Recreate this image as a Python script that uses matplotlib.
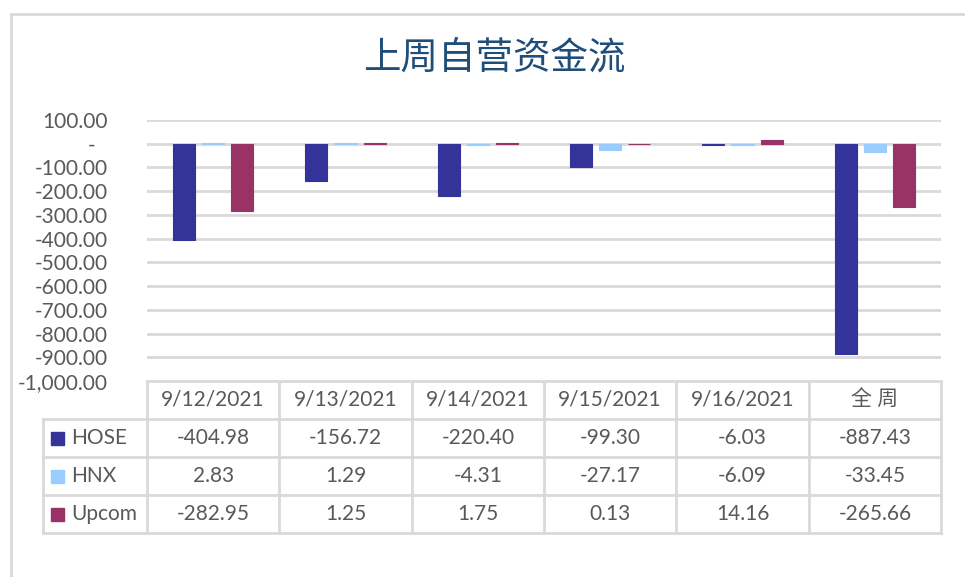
import numpy as np
import matplotlib
matplotlib.use('Agg')
import matplotlib.pyplot as plt
from matplotlib.ticker import FuncFormatter

plt.rcParams['font.family'] = ['Lato', 'Noto Sans CJK SC', 'DejaVu Sans']

# data
categories = ['9/12/2021', '9/13/2021', '9/14/2021', '9/15/2021', '9/16/2021', '全 周']
series = ['HOSE', 'HNX', 'Upcom']
hose = [-404.98, -156.72, -220.40, -99.30, -6.03, -887.43]
hnx = [2.83, 1.29, -4.31, -27.17, -6.09, -33.45]
upcom = [-282.95, 1.25, 1.75, 0.13, 14.16, -265.66]
colors = ['#333399', '#99ccff', '#993366']

W, H = 965, 577
fig = plt.figure(figsize=(W / 100, H / 100), dpi=100)

# pixel layout of plot/table
px_left, px_right = 147, 941
px_top, px_bottom = 120, 381
row_edges = [381, 419, 457, 495, 533]
grid_col = '#d9d9d9'
txt_col = '#595959'
fs = 15

# background overlay for frame + table (pixel coords)
bg = fig.add_axes([0, 0, 1, 1])
bg.set_xlim(0, W)
bg.set_ylim(H, 0)
bg.axis('off')
bg.plot([11, 11], [14, H], color=grid_col, lw=2)
bg.plot([11, W], [14, 14], color=grid_col, lw=2)

ax = fig.add_axes([px_left / W, 1 - px_bottom / H,
                   (px_right - px_left) / W, (px_bottom - px_top) / H])
x = np.arange(len(categories))
bw = 0.167
offs = [-0.22, 0, 0.22]
for vals, c, o in zip([hose, hnx, upcom], colors, offs):
    ax.bar(x + o, vals, width=bw, color=c, edgecolor=c, linewidth=0.8, zorder=3)

ax.set_xlim(-0.5, len(categories) - 0.5)
ax.set_ylim(-1000, 100)
ax.set_yticks(np.arange(-1000, 101, 100))
ax.yaxis.set_major_formatter(FuncFormatter(lambda v, p: '-\u2007' if abs(v) < 1e-9 else f'{v:,.2f}'))
ax.tick_params(axis='y', length=0, pad=28, labelsize=fs, labelcolor=txt_col)
ax.set_xticks([])
ax.grid(axis='y', color=grid_col, lw=2, zorder=0)
for s in ax.spines.values():
    s.set_visible(False)

fig.text(494 / W, 1 - 58 / H, '上周自营资金流', ha='center', va='center',
         fontsize=27, color='#1f4e79', family=['Noto Sans CJK SC'], weight='medium')

# data table under the chart
col_edges = np.linspace(px_left, px_right, len(categories) + 1)
lab_left = 43
lw = 2
# header row borders
bg.plot([px_left, px_right], [row_edges[0]] * 2, color=grid_col, lw=lw)
for r in row_edges[1:]:
    bg.plot([lab_left, px_right], [r, r], color=grid_col, lw=lw)
for cx in col_edges:
    bg.plot([cx, cx], [row_edges[0], row_edges[-1]], color=grid_col, lw=lw)
bg.plot([lab_left, lab_left], [row_edges[1], row_edges[-1]], color=grid_col, lw=lw)

centers = (col_edges[:-1] + col_edges[1:]) / 2
ymid = [(row_edges[i] + row_edges[i + 1]) / 2 for i in range(4)]
for cx, cat in zip(centers, categories):
    bg.text(cx, ymid[0], cat, ha='center', va='center', fontsize=fs, color=txt_col)
for i, (name, vals, c) in enumerate(zip(series, [hose, hnx, upcom], colors)):
    y = ymid[i + 1]
    bg.add_patch(plt.Rectangle((51, y - 6.5), 13, 13, color=c))
    bg.text(71, y, name, ha='left', va='center', fontsize=fs, color=txt_col)
    for cx, v in zip(centers, vals):
        bg.text(cx, y, f'{v:.2f}', ha='center', va='center', fontsize=fs, color=txt_col)

fig.savefig('out.png', dpi=100, facecolor='white')
